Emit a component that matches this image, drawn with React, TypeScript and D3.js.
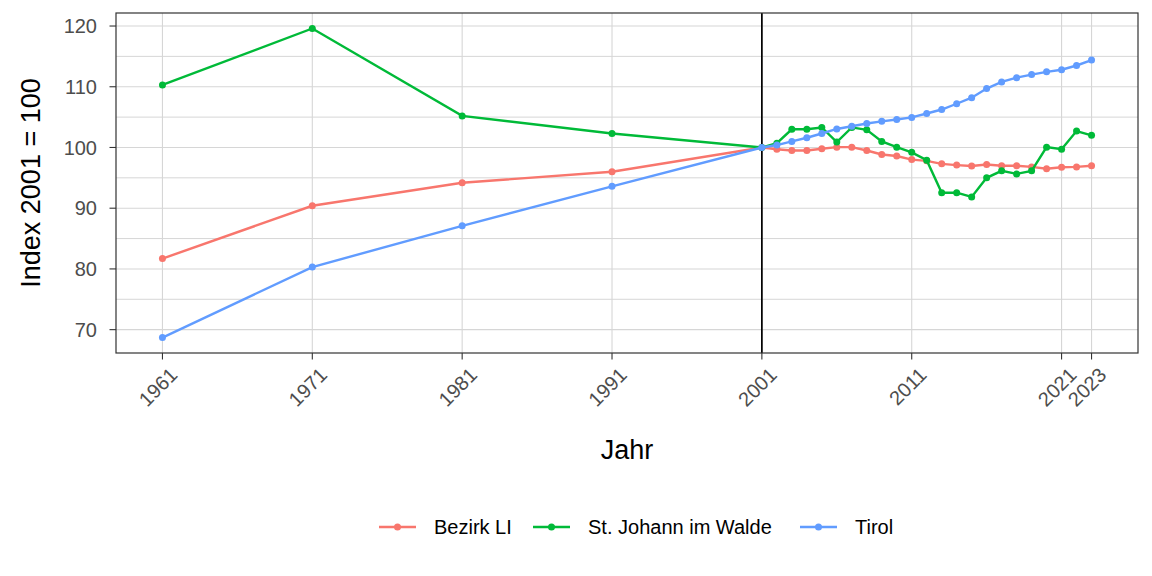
import React from "react";
import * as d3 from "d3";

const years = [1961, 1971, 1981, 1991, 2001, 2002, 2003, 2004, 2005, 2006, 2007, 2008, 2009, 2010, 2011, 2012, 2013, 2014, 2015, 2016, 2017, 2018, 2019, 2020, 2021, 2022, 2023];

const bezirkLI = [81.7, 90.4, 94.2, 96.0, 100, 99.7, 99.5, 99.5, 99.8, 100.05, 100.05, 99.5, 98.85, 98.6, 98.0, 97.8, 97.3, 97.1, 96.95, 97.2, 97.0, 97.0, 96.8, 96.5, 96.75, 96.8, 97.0];
const stJohann = [110.3, 119.6, 105.2, 102.3, 100, 100.7, 103.0, 103.0, 103.3, 100.9, 103.3, 102.9, 101.0, 100.05, 99.2, 97.9, 92.55, 92.55, 91.85, 95.0, 96.15, 95.65, 96.15, 100.05, 99.7, 102.7, 102.0];
const tirol = [68.7, 80.3, 87.1, 93.6, 100, 100.4, 101.0, 101.6, 102.3, 103.05, 103.5, 103.95, 104.3, 104.6, 104.95, 105.6, 106.25, 107.2, 108.2, 109.7, 110.8, 111.5, 112.0, 112.45, 112.8, 113.5, 114.4];

const seriesNames = ["Bezirk LI", "St. Johann im Walde", "Tirol"];
const seriesColors = ["#F8766D", "#00BA38", "#619CFF"];
const xTicks = [1961, 1971, 1981, 1991, 2001, 2011, 2021, 2023];
const yTicks = [70, 80, 90, 100, 110, 120];
const yMinor = [75, 85, 95, 105, 115];

export default function App() {
  const W = 1152, H = 576;
  const left = 116, right = 1138, top = 13, bottom = 353;
  const allVals = [...bezirkLI, ...stJohann, ...tirol];
  const [ymin, ymax] = d3.extent(allVals) as [number, number];
  const ypad = (ymax - ymin) * 0.05;
  const [xmin, xmax] = d3.extent(years) as [number, number];
  const xpad = (xmax - xmin) * 0.05;
  const x = d3.scaleLinear().domain([xmin - xpad, xmax + xpad]).range([left, right]);
  const y = d3.scaleLinear().domain([ymin - ypad, ymax + ypad]).range([bottom, top]);
  const data = [bezirkLI, stJohann, tirol];
  const line = d3.line<number>().x((_, i) => x(years[i])).y((d) => y(d));
  const font = "Arial, 'Liberation Sans', sans-serif";
  const legendItems = [
    { key: 379, text: 434 },
    { key: 533, text: 588 },
    { key: 800, text: 855 },
  ];

  return (
    <svg width={W} height={H} style={{ position: "absolute", left: 0, top: 0, background: "#fff" }} fontFamily={font}>
      <rect x={0} y={0} width={W} height={H} fill="#fff" />
      {yMinor.map((v) => (
        <line key={"ym" + v} x1={left} x2={right} y1={y(v)} y2={y(v)} stroke="#d6d6d6" strokeWidth={1} />
      ))}
      {yTicks.map((v) => (
        <line key={"yg" + v} x1={left} x2={right} y1={y(v)} y2={y(v)} stroke="#d6d6d6" strokeWidth={1.1} />
      ))}
      {xTicks.map((v) => (
        <line key={"xg" + v} x1={x(v)} x2={x(v)} y1={top} y2={bottom} stroke="#d6d6d6" strokeWidth={1.1} />
      ))}
      <line x1={x(2001)} x2={x(2001)} y1={top} y2={bottom} stroke="#000" strokeWidth={1.7} />
      {data.map((s, k) => (
        <g key={"s" + k}>
          <path d={line(s) || ""} fill="none" stroke={seriesColors[k]} strokeWidth={2.4} />
          {s.map((v, i) => (
            <circle key={i} cx={x(years[i])} cy={y(v)} r={3.5} fill={seriesColors[k]} />
          ))}
        </g>
      ))}
      <rect x={left} y={top} width={right - left} height={bottom - top} fill="none" stroke="#333" strokeWidth={1.2} />
      {yTicks.map((v) => (
        <g key={"yt" + v}>
          <line x1={left - 6.5} x2={left} y1={y(v)} y2={y(v)} stroke="#333" strokeWidth={1.1} />
          <text x={left - 19} y={y(v)} dy="0.36em" textAnchor="end" fontSize={20} fill="#4d4d4d">{v}</text>
        </g>
      ))}
      {xTicks.map((v) => (
        <g key={"xt" + v}>
          <line x1={x(v)} x2={x(v)} y1={bottom} y2={bottom + 6.5} stroke="#333" strokeWidth={1.1} />
          <text transform={`translate(${x(v) + 6},${bottom + 13}) rotate(-45)`} dy="0.72em" textAnchor="end" fontSize={20} fill="#4d4d4d">{v}</text>
        </g>
      ))}
      <text x={(left + right) / 2} y={459} textAnchor="middle" fontSize={27} fill="#000">Jahr</text>
      <text transform={`translate(40,${(top + bottom) / 2}) rotate(-90)`} textAnchor="middle" fontSize={27} fill="#000">Index 2001 = 100</text>
      {seriesNames.map((n, k) => (
        <g key={"lg" + k}>
          <line x1={legendItems[k].key} x2={legendItems[k].key + 37} y1={527} y2={527} stroke={seriesColors[k]} strokeWidth={2.4} />
          <circle cx={legendItems[k].key + 18.5} cy={527} r={3.5} fill={seriesColors[k]} />
          <text x={legendItems[k].text} y={527} dy="0.36em" fontSize={20} fill="#000">{n}</text>
        </g>
      ))}
    </svg>
  );
}
